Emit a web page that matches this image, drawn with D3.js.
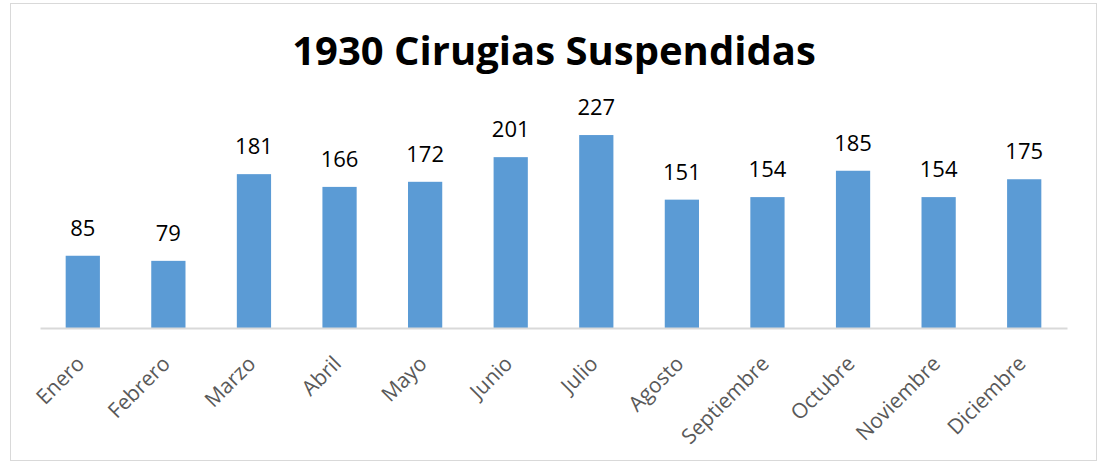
<!DOCTYPE html>
<html lang="es">
<head>
<meta charset="utf-8">
<script src="https://cdn.jsdelivr.net/npm/d3@7/dist/d3.min.js"></script>
<style>
body{margin:0;background:#fff;}
svg text{font-family:"Open Sans",sans-serif;}
</style>
</head>
<body>
<div id="chart"></div>
<script>
const months=["Enero","Febrero","Marzo","Abril","Mayo","Junio","Julio","Agosto","Septiembre","Octubre","Noviembre","Diciembre"]
const cirugias=[85,79,181,166,172,201,227,151,154,185,154,175]
const titulo="1930 Cirugias Suspendidas"

const W=1101,H=463
const svg=d3.select("#chart").append("svg").attr("width",W).attr("height",H)

// marco del grafico
svg.append("rect").attr("x",10.5).attr("y",3.5).attr("width",1086).attr("height",457)
  .style("fill","#fff").style("stroke","#d9d9d9")

svg.append("text").attr("x",554).attr("y",65).attr("text-anchor","middle")
  .style("font-size","40px").style("font-weight","bold").style("fill","#000").text(titulo)

const x=d3.scaleBand().domain(months).range([40,1067]).paddingInner(0.6).paddingOuter(0.3)
const y=d3.scaleLinear().domain([0,250]).range([328,115.5])

const bars=svg.append("g")
bars.selectAll("rect").data(cirugias).enter().append("rect")
  .attr("x",(d,i)=>x(months[i])).attr("width",x.bandwidth())
  .attr("y",d=>y(d)).attr("height",d=>y(0)-y(d))
  .style("fill","#5b9bd5")

bars.selectAll("text").data(cirugias).enter().append("text")
  .attr("x",(d,i)=>x(months[i])+x.bandwidth()/2).attr("y",d=>y(d)-20)
  .attr("text-anchor","middle").style("font-size","22px").style("fill","#000").text(d=>d)

const xAxis=svg.append("g").attr("transform","translate(0,"+y(0)+")")
  .call(d3.axisBottom(x).tickSize(0).tickPadding(0))
xAxis.select(".domain").style("stroke","#d9d9d9").style("stroke-width",2)
xAxis.selectAll("text")
  .style("font-size","21px").style("fill","#595959").style("font-family","Open Sans")
  .attr("text-anchor","end").attr("dy","0")
  .attr("transform","translate(3,37) rotate(-45)")
</script>
</body>
</html>
